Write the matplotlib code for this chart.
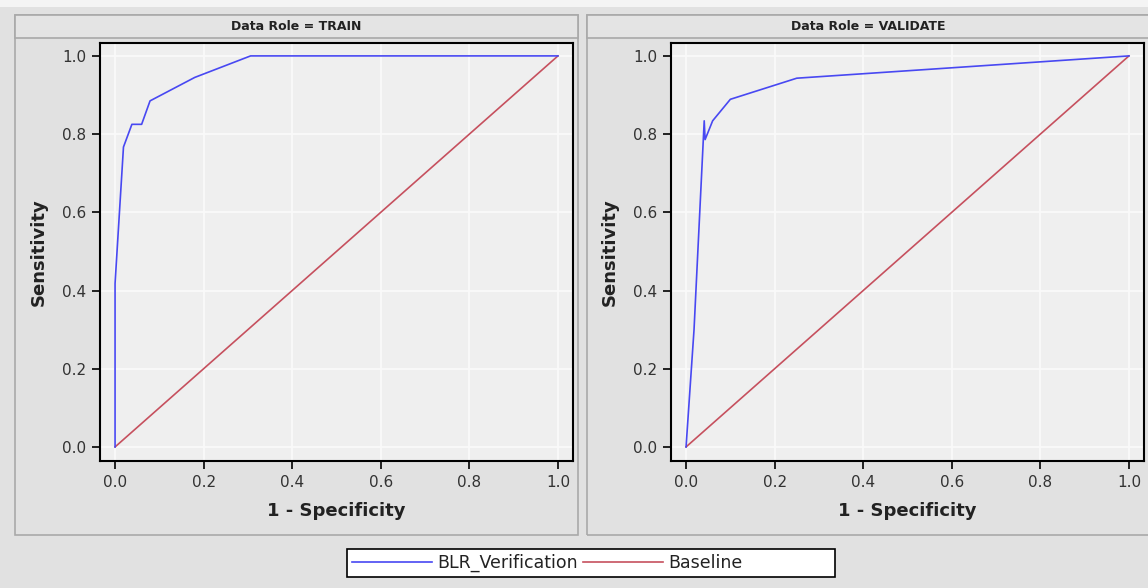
import matplotlib
matplotlib.use("Agg")
import matplotlib.pyplot as plt
from matplotlib.patches import Rectangle
from matplotlib.lines import Line2D

# ROC points
roles = ["TRAIN", "VALIDATE"]
train_fpr = [0.0, 0.0, 0.019, 0.038, 0.060, 0.079, 0.18, 0.306, 1.0]
train_tpr = [0.0, 0.418, 0.767, 0.825, 0.825, 0.885, 0.945, 1.0, 1.0]
validate_fpr = [0.0, 0.018, 0.041, 0.043, 0.060, 0.10, 0.25, 1.0]
validate_tpr = [0.0, 0.30, 0.834, 0.786, 0.834, 0.889, 0.943, 1.0]
baseline = [0.0, 1.0]
ticks = [0.0, 0.2, 0.4, 0.6, 0.8, 1.0]
tick_labels = ["0.0", "0.2", "0.4", "0.6", "0.8", "1.0"]

W, H = 1148, 588
BG = "#e1e1e1"
PLOT_BG = "#efefef"
BORDER = "#a9a9a9"
BLUE = "#4848f2"
RED = "#c6505e"

plt.rcParams["font.family"] = ["DejaVu Sans"]


def px(x0, y0, x1, y1):
    # pixel box (top-left origin) -> figure fraction rect
    return [x0 / W, 1 - y1 / H, (x1 - x0) / W, (y1 - y0) / H]


def frame(fig, x0, y0, x1, y1, fc, ec, lw=1.0, z=0):
    l, b, w, h = px(x0, y0, x1, y1)
    fig.patches.append(Rectangle((l, b), w, h, transform=fig.transFigure,
                                 facecolor=fc, edgecolor=ec, linewidth=lw, zorder=z))


fig = plt.figure(figsize=(W / 100, H / 100), dpi=100, facecolor=BG)
frame(fig, 0, 0, W, 7, "#f4f4f4", "none")

panels = [(15, 100, 573), (587, 671, 1144)]
series = [(train_fpr, train_tpr), (validate_fpr, validate_tpr)]

for (p0, a0, a1), role, (fpr, tpr) in zip(panels, roles, series):
    p1 = min(p0 + 563, W + 5)
    frame(fig, p0, 15, p1, 535, "none", BORDER, lw=1.2)
    frame(fig, p0, 15, p1, 38, "#e4e4e4", BORDER, lw=1.2)
    cx = (p0 + p0 + 563) / 2 / W
    fig.text(cx, 1 - 26.5 / H, f"Data Role = {role}", ha="center", va="center",
             fontsize=9, fontweight="bold", color="#222222")

    ax = fig.add_axes(px(a0, 43, a1, 461))
    ax.set_facecolor(PLOT_BG)
    ax.plot(fpr, tpr, color=BLUE, lw=1.2, zorder=3)
    ax.plot(baseline, baseline, color=RED, lw=1.2, zorder=2)
    ax.set_xlim(-0.034, 1.034)
    ax.set_ylim(-0.036, 1.033)
    ax.set_xticks(ticks)
    ax.set_xticklabels(tick_labels)
    ax.set_yticks(ticks)
    ax.set_yticklabels(tick_labels)
    ax.grid(True, color="#fafafa", lw=1.2)
    ax.set_axisbelow(True)
    for s in ax.spines.values():
        s.set_linewidth(1.5)
        s.set_color("black")
    ax.tick_params(direction="out", length=6, width=1.2, color="black",
                   labelsize=11, labelcolor="#333333", pad=4)
    ax.set_xlabel("1 - Specificity", fontsize=13, fontweight="bold",
                  color="#222222", labelpad=9)
    ax.set_ylabel("Sensitivity", fontsize=13, fontweight="bold",
                  color="#222222", labelpad=10)

# legend box is wider than its entries, so draw the frame separately
frame(fig, 347, 549, 835, 577, "white", "black", lw=1.2, z=1)
handles = [Line2D([], [], color=BLUE, lw=1.2), Line2D([], [], color=RED, lw=1.2)]
leg = fig.legend(handles, ["BLR_Verification", "Baseline"], loc="center left",
                 bbox_to_anchor=(349 / W, 1 - 563 / H), ncol=2, fontsize=12.5,
                 handlelength=4.6, handletextpad=0.3, columnspacing=0.3,
                 frameon=False, borderpad=0.2, borderaxespad=0)
leg.set_zorder(2)
for t in leg.get_texts():
    t.set_color("#222222")

fig.savefig("out.png", dpi=100, facecolor=BG)
